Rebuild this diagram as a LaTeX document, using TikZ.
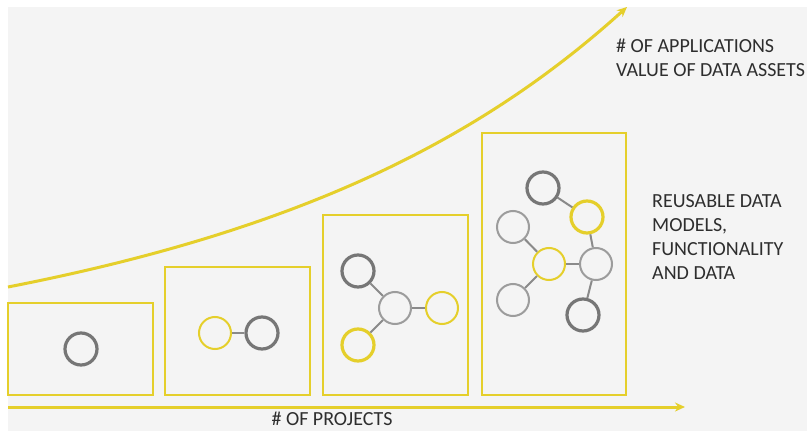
\documentclass[tikz,border=0pt]{standalone}
\usepackage{xcolor}
\usepackage{tikz}
\usepackage{fontspec}
\setmainfont{Carlito}
\usetikzlibrary{arrows.meta}
\tikzset{>={Stealth[length=10pt,width=9pt]}}

\definecolor{bggray}{HTML}{F4F4F4}
\definecolor{datayellow}{HTML}{E5CF2B}
\definecolor{darkring}{HTML}{767676}
\definecolor{lightring}{HTML}{9C9C9C}
\definecolor{linkgray}{HTML}{8A8A8A}
\definecolor{labeltext}{HTML}{2E2E2E}

\tikzset{
    stage/.style={draw=datayellow, line width=2.5pt},
    growth/.style={draw=datayellow, line width=3pt},
    ring/.style={circle, minimum size=32pt, inner sep=0pt},
    darkring/.style={ring, draw=darkring, line width=3.2pt},
    lightring/.style={ring, draw=lightring, line width=2pt},
    yellowthick/.style={ring, draw=datayellow, line width=3.2pt},
    yellowthin/.style={ring, draw=datayellow, line width=2pt},
    link/.style={draw=linkgray, line width=2pt},
    caption/.style={text=labeltext, inner sep=0pt, align=left, font=\fontsize{20}{24}\selectfont}
}

\begin{document}
\begin{tikzpicture}[x=1pt, y=-1pt]

    \useasboundingbox (0,0) rectangle (807,431);
    \fill[bggray] (8,7) rectangle (807,431);

    % Growth curve and project axis
    \coordinate (curvestart) at (8,287);
    \coordinate (curveend) at (627,7);
    \coordinate (axisstart) at (8,407);
    \coordinate (axisend) at (685,407);
    \draw[growth, ->] (curvestart) .. controls (300,230) and (480,140) .. (curveend);
    \draw[growth, ->] (axisstart) -- (axisend);

    % Stages
    \draw[stage] (8,303) rectangle (153,395);
    \draw[stage] (165,267) rectangle (310,395);
    \draw[stage] (323,215) rectangle (468,395);
    \draw[stage] (482,133) rectangle (626,395);

    % Stage 1
    \node[darkring] (one) at (81,349) {};

    % Stage 2
    \node[yellowthin] (twoa) at (215,333) {};
    \node[darkring] (twob) at (262,333) {};
    \draw[link] (twoa) -- (twob);

    % Stage 3
    \node[darkring] (threetop) at (358,271) {};
    \node[lightring] (threehub) at (395,308) {};
    \node[yellowthin] (threeright) at (442,308) {};
    \node[yellowthick] (threebottom) at (358,345) {};
    \draw[link] (threetop) -- (threehub);
    \draw[link] (threehub) -- (threeright);
    \draw[link] (threehub) -- (threebottom);

    % Stage 4
    \node[darkring] (fourtop) at (543,188) {};
    \node[yellowthick] (fouryellow) at (587,217) {};
    \node[lightring] (fourleft) at (513,227) {};
    \node[yellowthin] (fourhub) at (549,264) {};
    \node[lightring] (fourright) at (596,264) {};
    \node[lightring] (fourlow) at (513,300) {};
    \node[darkring] (fourbottom) at (583,315) {};
    \draw[link] (fourtop) -- (fouryellow);
    \draw[link] (fouryellow) -- (fourright);
    \draw[link] (fourleft) -- (fourhub);
    \draw[link] (fourhub) -- (fourright);
    \draw[link] (fourhub) -- (fourlow);
    \draw[link] (fourright) -- (fourbottom);

    % Labels
    \node[caption, anchor=north west] (apps) at (616,39) {\# OF APPLICATIONS\\VALUE OF DATA ASSETS};
    \node[caption, anchor=north west] (reuse) at (652,194) {REUSABLE DATA\\MODELS,\\FUNCTIONALITY\\AND DATA};
    \node[caption, anchor=north] (projects) at (332,412) {\# OF PROJECTS};

\end{tikzpicture}
\end{document}
